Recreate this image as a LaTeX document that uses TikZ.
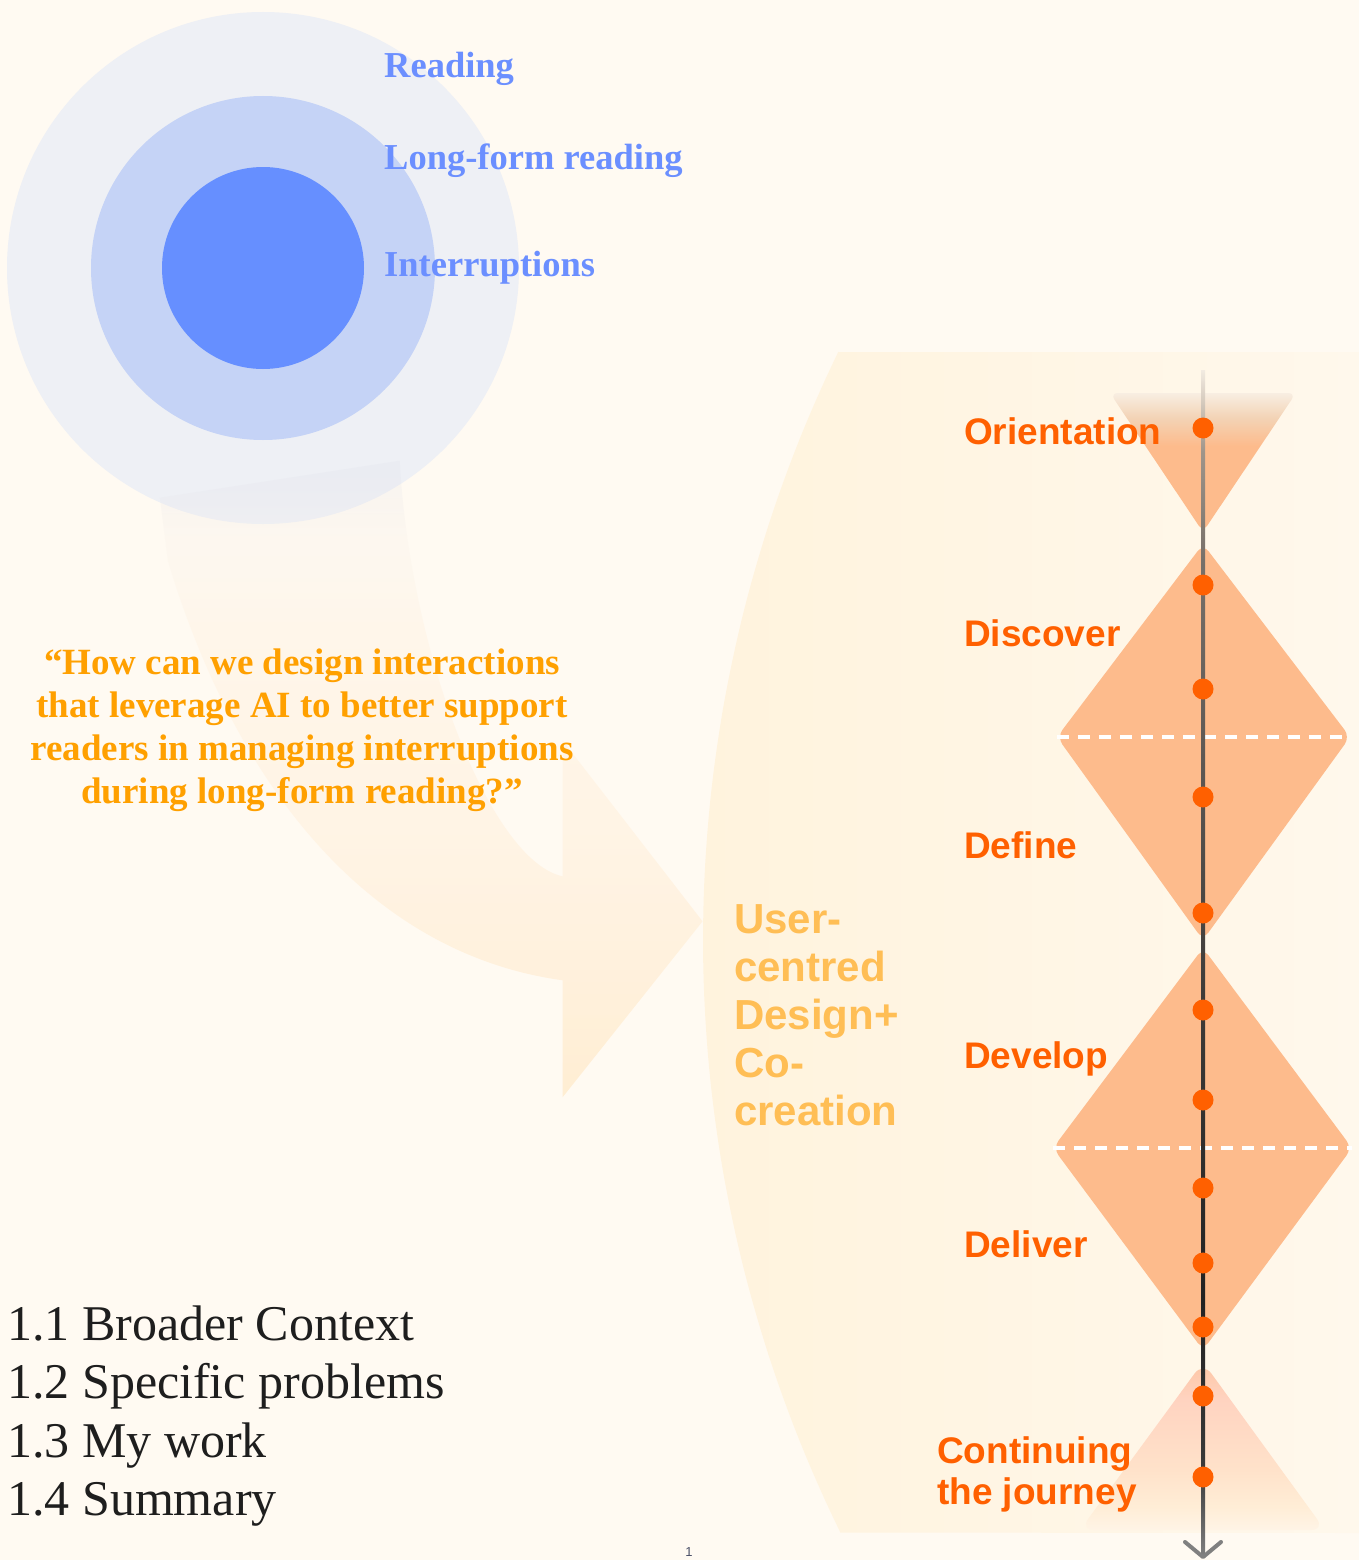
\documentclass[tikz,border=0pt]{standalone}
\usepackage{fontspec}
\setmainfont{Liberation Serif}
\newfontfamily\labelsans{Liberation Sans}
\usetikzlibrary{fadings,calc}

% palette
\definecolor{paper}{HTML}{FFFAF2}
\definecolor{ringouter}{HTML}{EEF0F5}
\definecolor{ringmid}{HTML}{C5D3F6}
\definecolor{ringcore}{HTML}{668FFF}
\definecolor{ringtext}{HTML}{6B8FFF}
\definecolor{quotecol}{HTML}{FFA000}
\definecolor{listtext}{HTML}{1E1E1E}
\definecolor{pagenumcol}{HTML}{4B5068}
\definecolor{phaseorange}{HTML}{FF6000}
\definecolor{phasefill}{HTML}{FDBB8C}
\definecolor{methodtext}{HTML}{FFBE55}
\definecolor{bandleft}{HTML}{FFF3DD}
\definecolor{bandright}{HTML}{FFF8EC}
\definecolor{arrowtop}{HTML}{D5D6E6}
\definecolor{arrowsoft}{HTML}{F8F1EA}
\definecolor{arrowmid}{HTML}{FFF1DE}
\definecolor{arrowbot}{HTML}{FFEED3}
\definecolor{orienttop}{HTML}{F8EEE2}
\definecolor{orienttoptwo}{HTML}{F3D3B5}
\definecolor{journeytop}{HTML}{FDC6A4}
\definecolor{journeypink}{HTML}{FFD3C0}
\definecolor{journeymid}{HTML}{FFE2CA}
\definecolor{journeylow}{HTML}{FFEDD6}
\definecolor{journeybot}{HTML}{FFF4E6}
\definecolor{axbot}{HTML}{808080}
\definecolor{axlow}{HTML}{3A3A3A}
\definecolor{axblack}{HTML}{222222}
\definecolor{axdark}{HTML}{3E3B38}
\definecolor{axmid}{HTML}{5E5955}
\definecolor{axupper}{HTML}{777069}
\definecolor{axbrown}{HTML}{A0958A}
\definecolor{axpale}{HTML}{D6CBBE}
\definecolor{axfaint}{HTML}{F2EBE1}

% timeline axis: dark in the middle, fading out at the top
\pgfdeclareverticalshading{axisline}{100bp}{%
  color(0bp)=(axbot); color(25bp)=(axbot); color(28.7bp)=(axlow);
  color(35.8bp)=(axblack); color(48.5bp)=(axdark); color(59bp)=(axmid);
  color(67bp)=(axupper); color(71.6bp)=(axbrown); color(73.7bp)=(axpale);
  color(75bp)=(axfaint); color(100bp)=(axfaint)}

% orientation funnel: soft top edge
\pgfdeclareverticalshading{orientshade}{100bp}{%
  color(0bp)=(phasefill); color(25bp)=(phasefill); color(56bp)=(phasefill);
  color(66bp)=(orienttoptwo); color(75bp)=(orienttop); color(100bp)=(orienttop)}

% continuing-the-journey cone: pink top, fading to the page
\pgfdeclareverticalshading{journeyshade}{100bp}{%
  color(0bp)=(journeybot); color(25bp)=(journeybot); color(32bp)=(journeylow);
  color(43bp)=(journeymid); color(64bp)=(journeypink); color(75bp)=(journeytop);
  color(100bp)=(journeytop)}

% sweeping arrow: lavender where it leaves the rings, warm cream at the head
\pgfdeclareverticalshading{arrowshade}{100bp}{%
  color(0bp)=(arrowbot); color(25bp)=(arrowbot); color(45bp)=(arrowmid);
  color(62bp)=(arrowmid); color(69bp)=(arrowsoft); color(75bp)=(arrowtop);
  color(100bp)=(arrowtop)}

\tikzfading[name=arrowfade, top color=transparent!85, middle color=transparent!55, bottom color=transparent!0]

\begin{document}
\begin{tikzpicture}[x=1pt,y=-1pt,
  ring/.style={circle, inner sep=0pt, draw=none},
  ringlabel/.style={text=ringtext, font=\fontsize{36.5}{40}\selectfont\bfseries, anchor=base west, inner sep=0pt},
  quoteline/.style={text=quotecol, font=\fontsize{37}{43}\selectfont\bfseries, anchor=base, inner sep=0pt},
  listitem/.style={text=listtext, font=\fontsize{50}{58}\selectfont, anchor=base west, inner sep=0pt},
  phase/.style={text=phaseorange, font=\labelsans\fontsize{37}{42}\selectfont\bfseries, anchor=base west, inner sep=0pt},
  method/.style={text=methodtext, font=\labelsans\fontsize{42}{48}\selectfont\bfseries, anchor=base west, inner sep=0pt},
  dot/.style={circle, fill=phaseorange, minimum size=21pt, inner sep=0pt},
  divider/.style={white, line width=4pt, dash pattern=on 12pt off 9pt},
  phaseshape/.style={fill=phasefill, rounded corners=9pt},
]
\useasboundingbox (0,0) rectangle (1359,1560);
\fill[paper] (0,0) rectangle (1359,1560);

% ---- method band behind the double diamond ----
\shade[left color=bandleft, right color=bandright]
  (1359,352) -- (838,352)
  -- plot[smooth, domain=-25.9:26.1, samples=40] ({2050-1347*cos(\x)},{940+1347*sin(\x)})
  -- (1359,1533) -- cycle;

% ---- nested topic rings ----
\node[ring, fill=ringouter, minimum size=512pt] (outer) at (263,268) {};
\node[ring, fill=ringmid, minimum size=344pt] (middle) at (263,268) {};
\node[ring, fill=ringcore, minimum size=202pt] (core) at (263,268) {};

\node[ringlabel] (lreading) at (384,78) {Reading};
\node[ringlabel] (llong) at (384,169) {Long-form reading};
\node[ringlabel] (linter) at (384,276) {Interruptions};

% ---- sweeping arrow from the rings into the method ----
\shade[shading=arrowshade, path fading=arrowfade]
  (160,497) -- (400,460)
  .. controls (410,650) and (490,860) .. (563,876)
  -- (563,740) -- (703,921) -- (563,1097) -- (563,980)
  .. controls (380,955) and (240,800) .. (168,560) -- cycle;

% ---- research question ----
\node[quoteline] (q1) at (302,674) {“How can we design interactions};
\node[quoteline] (q2) at (302,717) {that leverage AI to better support};
\node[quoteline] (q3) at (302,760) {readers in managing interruptions};
\node[quoteline] (q4) at (302,803) {during long-form reading?”};

% ---- chapter outline ----
\node[listitem] (s1) at (7,1340) {1.1 Broader Context};
\node[listitem] (s2) at (7,1398) {1.2 Specific problems};
\node[listitem] (s3) at (7,1457) {1.3 My work};
\node[listitem] (s4) at (7,1515) {1.4 Summary};

\node[text=pagenumcol, font=\labelsans\fontsize{13}{13}\selectfont, anchor=north, inner sep=0pt] (pagenum) at (689,1547) {1};

% ---- method label ----
\node[method] (m1) at (734,933) {User-};
\node[method] (m2) at (734,981) {centred};
\node[method] (m3) at (734,1029) {Design+};
\node[method] (m4) at (734,1077) {Co-};
\node[method] (m5) at (734,1125) {creation};

% ---- phase shapes ----
\shade[shading=orientshade, rounded corners=8pt] (1110,393) -- (1296,393) -- (1203,532) -- cycle;
\fill[phaseshape] (1203,544) -- (1350,737) -- (1203,940) -- (1057,737) -- cycle;
\fill[phaseshape] (1203,948) -- (1352,1148) -- (1203,1350) -- (1053,1148) -- cycle;
\shade[shading=journeyshade, rounded corners=14pt] (1203,1362) -- (1325,1530) -- (1080,1530) -- cycle;

\coordinate (div1l) at (1057,737);
\coordinate (div1r) at (1350,737);
\coordinate (div2l) at (1053,1148);
\coordinate (div2r) at (1352,1148);
\draw[divider] (div1l) -- (div1r);
\draw[divider] (div2l) -- (div2r);

% ---- timeline axis ----
\coordinate (axtop) at (1203,370);
\coordinate (axend) at (1203,1557);
\shade[shading=axisline] ($(axtop)+(-2,0)$) rectangle ($(axend)+(2,0)$);
\draw[axbot, line width=4pt, line cap=round, line join=round]
  ($(axend)+(-18,-15)$) -- (axend) -- ($(axend)+(18,-15)$);

\foreach \yy [count=\i] in {428,585,689,797,913,1010,1100,1188,1263,1327,1396,1477}
  \node[dot] (d\i) at (1203,\yy) {};

% ---- phase labels ----
\node[phase] (porient) at (964,444) {Orientation};
\node[phase] (pdisc) at (964,646) {Discover};
\node[phase] (pdef) at (964,858) {Define};
\node[phase] (pdev) at (964,1068) {Develop};
\node[phase] (pdel) at (964,1257) {Deliver};
\node[phase] (pcont) at (937,1463) {Continuing};
\node[phase] (pjour) at (937,1504) {the journey};
\end{tikzpicture}
\end{document}
